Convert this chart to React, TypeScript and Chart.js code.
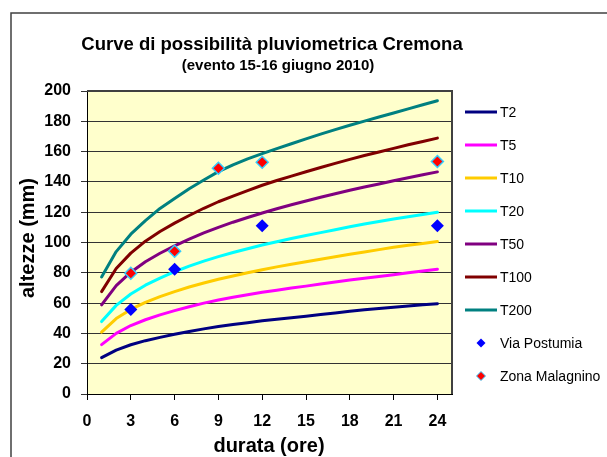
import React, { useEffect, useRef } from "react";
import { Chart, registerables } from "chart.js";

Chart.register(...registerables);

const DURATA = [1, 2, 3, 4, 5, 6, 7, 8, 9, 10, 11, 12, 13, 14, 15, 16, 17, 18, 19, 20, 21, 22, 23, 24];

const T2 = [24.0, 29.0, 32.5, 35.2, 37.4, 39.4, 41.2, 43.0, 44.6, 45.9, 47.1, 48.3, 49.4, 50.4, 51.3, 52.4, 53.4, 54.6, 55.6, 56.5, 57.3, 58.1, 58.9, 59.6];
const T5 = [32.6, 40.0, 45.2, 49.0, 52.2, 55.0, 57.6, 60.0, 62.0, 63.8, 65.5, 67.1, 68.5, 69.9, 71.2, 72.6, 73.9, 75.2, 76.4, 77.5, 78.7, 80.0, 81.2, 82.4];
const T10 = [40.8, 49.8, 55.8, 60.5, 64.3, 67.6, 70.6, 73.3, 75.7, 77.9, 80.0, 82.0, 83.9, 85.6, 87.3, 89.0, 90.6, 92.3, 93.8, 95.3, 96.8, 98.2, 99.4, 100.6];
const T20 = [47.8, 58.5, 66.0, 71.8, 76.5, 80.7, 84.4, 87.7, 90.7, 93.4, 95.9, 98.3, 100.5, 102.6, 104.6, 106.5, 108.4, 110.4, 112.2, 113.9, 115.5, 117.0, 118.5, 119.9];
const T50 = [58.8, 71.5, 80.4, 87.3, 92.9, 97.8, 102.2, 106.3, 110.0, 113.4, 116.5, 119.5, 122.3, 124.9, 127.4, 129.9, 132.2, 134.5, 136.6, 138.6, 140.7, 142.7, 144.7, 146.6];
const T100 = [67.6, 82.8, 93.0, 100.9, 107.3, 112.8, 117.8, 122.6, 126.9, 130.6, 134.2, 137.8, 140.9, 143.8, 146.7, 149.5, 152.2, 154.9, 157.4, 159.7, 162.1, 164.5, 166.7, 168.9];
const T200 = [77.3, 94.0, 105.5, 114.5, 122.5, 129.0, 135.5, 141.2, 146.8, 151.3, 155.2, 158.7, 162.0, 165.2, 168.4, 171.5, 174.5, 177.4, 180.1, 182.8, 185.5, 188.2, 190.9, 193.6];

const SERIES_NAMES = ["T2", "T5", "T10", "T20", "T50", "T100", "T200"];
const SERIES_COLORS = ["#000080", "#FF00FF", "#FFCC00", "#00FFFF", "#800080", "#800000", "#008080"];

const VIA_POSTUMIA_X = [3, 6, 12, 24];
const VIA_POSTUMIA_Y = [55.7, 82.4, 111.0, 111.0];
const MALAGNINO_X = [3, 6, 9, 12, 24];
const MALAGNINO_Y = [79.7, 94.2, 149.0, 153.0, 153.5];

const X_TICKS = [0, 3, 6, 9, 12, 15, 18, 21, 24];

const TITLE = "Curve di possibilità pluviometrica Cremona";
const SUBTITLE = "(evento 15-16 giugno 2010)";
const X_TITLE = "durata (ore)";
const Y_TITLE = "altezze (mm)";
const POSTUMIA_NAME = "Via Postumia";
const MALAGNINO_NAME = "Zona Malagnino";

const FONT = "'Liberation Sans', Arial, Helvetica, sans-serif";

function diamond(ctx: CanvasRenderingContext2D, x: number, y: number, r: number) {
  ctx.beginPath();
  ctx.moveTo(x - r, y);
  ctx.lineTo(x, y - r);
  ctx.lineTo(x + r, y);
  ctx.lineTo(x, y + r);
  ctx.closePath();
}

const decorPlugin = {
  id: "decor",
  beforeDraw(chart: any) {
    const { ctx, chartArea: a } = chart;
    ctx.save();
    ctx.fillStyle = "#ffffff";
    ctx.fillRect(0, 0, chart.width, chart.height);
    ctx.strokeStyle = "#404040";
    ctx.lineWidth = 1.5;
    ctx.strokeRect(11, 13, chart.width + 40, chart.height + 40);
    ctx.fillStyle = "#FFFFCC";
    ctx.fillRect(a.left, a.top, a.right - a.left, a.bottom - a.top);
    ctx.restore();
  },
  afterDraw(chart: any) {
    const { ctx, chartArea: a } = chart;
    ctx.save();
    // plot border top / right
    ctx.strokeStyle = "#404040";
    ctx.lineWidth = 2;
    ctx.beginPath();
    ctx.moveTo(a.left, a.top);
    ctx.lineTo(a.right, a.top);
    ctx.lineTo(a.right, a.bottom);
    ctx.stroke();

    // titles
    ctx.fillStyle = "#000";
    ctx.textAlign = "center";
    ctx.textBaseline = "alphabetic";
    ctx.font = `bold 18.5px ${FONT}`;
    ctx.fillText(TITLE, 272, 50);
    ctx.font = `bold 15px ${FONT}`;
    ctx.fillText(SUBTITLE, 278, 70);

    // axis titles
    ctx.font = `bold 20px ${FONT}`;
    ctx.textBaseline = "middle";
    ctx.fillText(X_TITLE, 269, 446);
    ctx.save();
    ctx.translate(28, 238);
    ctx.rotate(-Math.PI / 2);
    ctx.fillText(Y_TITLE, 0, 0);
    ctx.restore();

    // legend
    ctx.textAlign = "left";
    ctx.textBaseline = "middle";
    ctx.font = `14px ${FONT}`;
    const x0 = 465;
    const y0 = 112;
    const dy = 33;
    SERIES_NAMES.forEach((name, i) => {
      const y = y0 + dy * i;
      ctx.strokeStyle = SERIES_COLORS[i];
      ctx.lineWidth = 3;
      ctx.beginPath();
      ctx.moveTo(x0, y);
      ctx.lineTo(x0 + 32, y);
      ctx.stroke();
      ctx.fillStyle = "#000";
      ctx.fillText(name, x0 + 35, y + 1);
    });
    let y = y0 + dy * 7;
    ctx.fillStyle = "#0000FF";
    diamond(ctx, x0 + 16, y, 4.5);
    ctx.fill();
    ctx.fillStyle = "#000";
    ctx.fillText(POSTUMIA_NAME, x0 + 35, y + 1);
    y = y0 + dy * 8;
    ctx.fillStyle = "#FF0000";
    ctx.strokeStyle = "#33CCFF";
    ctx.lineWidth = 1;
    diamond(ctx, x0 + 16, y, 4.5);
    ctx.fill();
    ctx.stroke();
    ctx.fillStyle = "#000";
    ctx.fillText(MALAGNINO_NAME, x0 + 35, y + 1);
    ctx.restore();
  },
};

export default function App() {
  const ref = useRef<HTMLCanvasElement | null>(null);

  useEffect(() => {
    if (!ref.current) return;
    const curves = [T2, T5, T10, T20, T50, T100, T200];
    const datasets: any[] = SERIES_NAMES.map((name, i) => ({
      label: name,
      data: DURATA.map((d, j) => ({ x: d, y: curves[i][j] })),
      borderColor: SERIES_COLORS[i],
      backgroundColor: SERIES_COLORS[i],
      borderWidth: 3,
      pointRadius: 0,
      fill: false,
      tension: 0,
      borderCapStyle: "round",
      borderJoinStyle: "round",
      order: 20 - i,
    }));
    datasets.push({
      label: POSTUMIA_NAME,
      data: VIA_POSTUMIA_X.map((d, j) => ({ x: d, y: VIA_POSTUMIA_Y[j] })),
      showLine: false,
      pointStyle: "rectRot",
      pointRadius: 6.5,
      pointBackgroundColor: "#0000FF",
      pointBorderColor: "#0000FF",
      pointBorderWidth: 0,
      order: 2,
    });
    datasets.push({
      label: MALAGNINO_NAME,
      data: MALAGNINO_X.map((d, j) => ({ x: d, y: MALAGNINO_Y[j] })),
      showLine: false,
      pointStyle: "rectRot",
      pointRadius: 6,
      pointBackgroundColor: "#FF0000",
      pointBorderColor: "#33CCFF",
      pointBorderWidth: 1.5,
      order: 1,
    });

    const tickFont = { family: FONT, size: 16, weight: "bold" as const };

    const chart = new Chart(ref.current, {
      type: "line",
      data: { datasets },
      plugins: [decorPlugin],
      options: {
        animation: false,
        responsive: false,
        devicePixelRatio: 1,
        layout: { padding: { left: 0, top: 91, right: 155, bottom: 0 } },
        plugins: {
          legend: { display: false },
          tooltip: { enabled: false },
          title: { display: false },
        },
        scales: {
          x: {
            type: "linear",
            min: 0,
            max: 25,
            afterBuildTicks: (s: any) => {
              s.ticks = X_TICKS.map((v) => ({ value: v }));
            },
            afterFit: (s: any) => {
              s.height = 63;
            },
            grid: { drawOnChartArea: false, drawTicks: true, tickLength: 6, color: "#000" },
            border: { display: true, color: "#000", width: 1 },
            ticks: { font: tickFont, color: "#000", padding: 12, maxRotation: 0, autoSkip: false },
          },
          y: {
            type: "linear",
            min: 0,
            max: 200,
            afterFit: (s: any) => {
              s.width = 87;
            },
            grid: { color: "#333333", tickLength: 6, drawTicks: true },
            border: { display: true, color: "#000", width: 1 },
            ticks: { stepSize: 20, font: tickFont, color: "#000", padding: 10 },
          },
        },
      },
    } as any);
    return () => chart.destroy();
  }, []);

  return (
    <div style={{ position: "fixed", left: 0, top: 0, width: 607, height: 457, background: "#fff" }}>
      <canvas ref={ref} width={607} height={457} style={{ width: 607, height: 457, display: "block" }} />
    </div>
  );
}
